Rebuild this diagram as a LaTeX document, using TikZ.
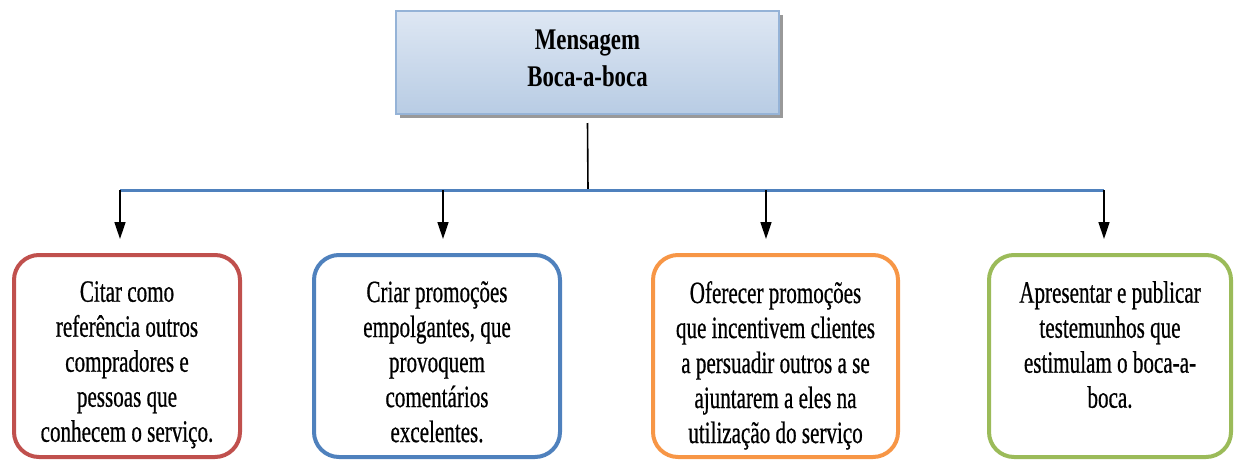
\documentclass[tikz,border=0pt]{standalone}
\usepackage{fontspec}
\setmainfont{Liberation Serif}[FakeStretch=0.68,FakeBold=0.6]
\newfontfamily\fonttitulo{Liberation Serif}[FakeStretch=0.76]
\usetikzlibrary{positioning,arrows.meta,shadows}
\definecolor{vermelho}{RGB}{192,80,77}
\definecolor{azul}{RGB}{79,129,189}
\definecolor{laranja}{RGB}{247,150,70}
\definecolor{verde}{RGB}{155,187,89}
\definecolor{bordatopo}{RGB}{149,179,215}
\definecolor{topo1}{RGB}{222,231,243}
\definecolor{topo2}{RGB}{184,204,228}
\tikzset{
caixa/.style={draw,line width=4pt,rounded corners=25pt,minimum height=202pt},
texto/.style={align=center,inner sep=0pt,font=\fontsize{31}{35}\selectfont},
seta/.style={line width=1.6pt,shorten >=14pt,-{Triangle[length=17pt,width=11pt]}},
}
\begin{document}
\begin{tikzpicture}[x=1pt,y=1pt]
\useasboundingbox (0,0) rectangle (1236,-461);
\node[draw=bordatopo,line width=2pt,top color=topo1,bottom color=topo2,minimum width=383pt,minimum height=103pt,drop shadow={opacity=1,fill=gray!80,shadow xshift=4pt,shadow yshift=-4pt}] (msg) at (587.5,-62.5) {};
\node[align=center,inner sep=0pt,font=\fonttitulo\bfseries\fontsize{30}{37}\selectfont] (titulo) at ([yshift=4pt]msg.center) {Mensagem\\Boca-a-boca};
\node[caixa,draw=vermelho,minimum width=226pt] (cit) at (127,-356) {};
\node[caixa,draw=azul,minimum width=246pt] (cri) at (437,-356) {};
\node[caixa,draw=laranja,minimum width=245pt] (ofe) at (775.5,-356) {};
\node[caixa,draw=verde,minimum width=242pt] (apr) at (1110,-356) {};
\node[texto,below=28pt of cit.north] (tcit) {Citar como\\referência outros\\compradores e\\pessoas que\\conhecem o serviço.};
\node[texto,below=28pt of cri.north] (tcri) {Criar promoções\\empolgantes, que\\provoquem\\comentários\\excelentes.};
\node[texto,below=28pt of ofe.north] (tofe) {Oferecer promoções\\que incentivem clientes\\a persuadir outros a se\\ajuntarem a eles na\\utilização do serviço};
\node[texto,below=28pt of apr.north] (tapr) {Apresentar e publicar\\testemunhos que\\estimulam o boca-a-\\boca.};
\coordinate (barra) at (588,-190);
\coordinate (b1) at (120,-190);
\coordinate (b2) at (443,-190);
\coordinate (b3) at (766,-190);
\coordinate (b4) at (1104,-190);
\draw[line width=1.6pt] ([yshift=-8pt]msg.south) -- (barra);
\draw[azul,line width=3pt] (b1) -- (b4);
\draw[seta] (b1) -- (b1 |- cit.north);
\draw[seta] (b2) -- (b2 |- cri.north);
\draw[seta] (b3) -- (b3 |- ofe.north);
\draw[seta] (b4) -- (b4 |- apr.north);
\end{tikzpicture}
\end{document}
